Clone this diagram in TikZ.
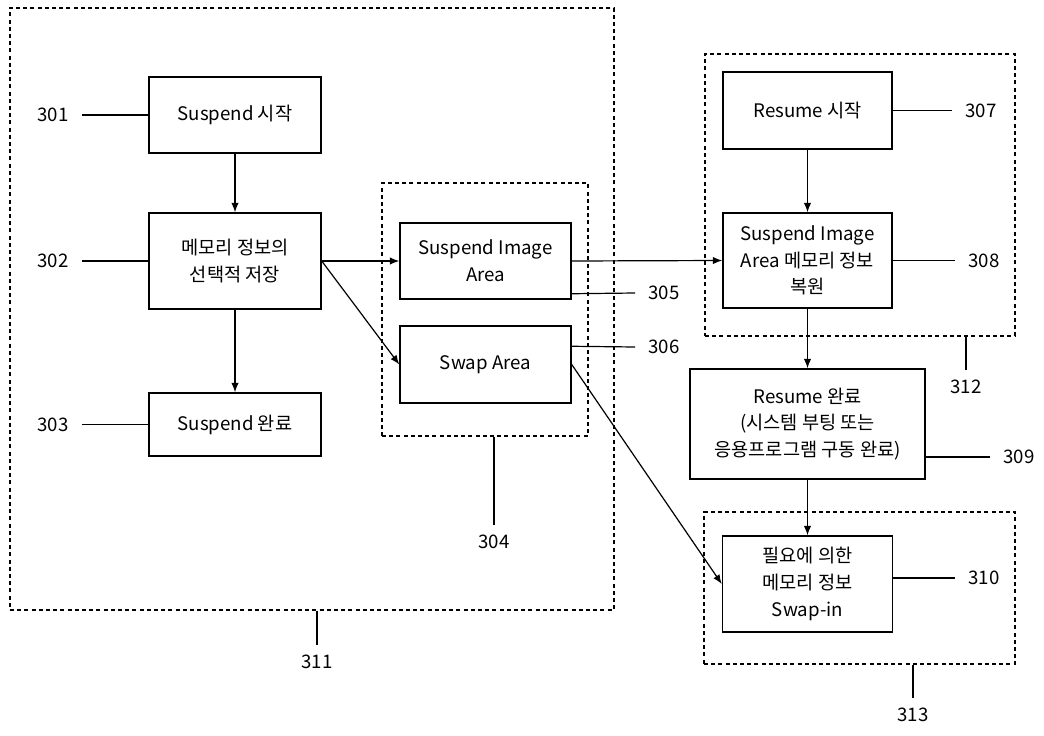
\documentclass[tikz,border=0pt]{standalone}
\usepackage{fontspec}
\setmainfont{Noto Sans CJK KR}
\usepackage{tikz}
\usetikzlibrary{calc}
\usetikzlibrary{arrows.meta}
\usetikzlibrary{shapes,positioning}

\begin{document}
\begin{tikzpicture}[x=0.75pt,y=-0.75pt,
	box/.style={rectangle, draw, line width=1.1pt, align=center, inner sep=0pt, minimum width=129pt, font=\fontsize{14}{20}\selectfont},
	region/.style={rectangle, draw, line width=0.9pt, dash pattern=on 3pt off 2.4pt, inner sep=0pt},
	num/.style={inner xsep=10pt, inner ysep=7pt, font=\fontsize{14}{20}\selectfont},
	link/.style={line width=0.9pt, -{Latex[length=7pt,width=5.5pt]}},
	lead/.style={line width=0.9pt}]
	\useasboundingbox (0,0) rectangle (1044,735);
	\node (g311) at (312,309) [region, minimum width=453pt, minimum height=451.5pt] {};
	\node (g304) at (485,309.5) [region, minimum width=154.5pt, minimum height=189.75pt] {};
	\node (g312) at (860,195) [region, minimum width=232.5pt, minimum height=211.5pt] {};
	\node (g313) at (859.5,588) [region, minimum width=233.25pt, minimum height=114pt] {};
	\node (s301) at (235,115) [box, minimum height=57pt] {Suspend 시작};
	\node (s302) at (235,261) [box, minimum height=72pt] {메모리 정보의\\선택적 저장};
	\node (s303) at (235,424.5) [box, minimum height=47.25pt] {Suspend 완료};
	\node (s305) at (485.5,261) [box, minimum width=128.25pt, minimum height=57pt] {Suspend Image\\Area};
	\node (s306) at (485.5,364.5) [box, minimum width=128.25pt, minimum height=57.75pt] {Swap Area};
	\node (s307) at (807.5,110.5) [box, minimum width=126.75pt, minimum height=57.75pt] {Resume 시작};
	\node (s308) at (807.5,260.5) [box, minimum width=126.75pt, minimum height=71.25pt] {Suspend Image\\Area 메모리 정보\\복원};
	\node (s309) at (807.5,424) [box, minimum width=176.25pt, minimum height=82.5pt] {Resume 완료\\(시스템 부팅 또는\\응용프로그램 구동 완료)};
	\node (s310) at (807.5,584) [box, minimum width=127.5pt, minimum height=72pt] {필요에 의한\\메모리 정보\\Swap-in};
	\node (l301) at (82,115) [num, anchor=east] {301};
	\node (l302) at (82,261) [num, anchor=east] {302};
	\node (l303) at (82,424.5) [num, anchor=east] {303};
	\node (l304) at (494,525) [num, anchor=north] {304};
	\node (l305) at (635,293) [num, anchor=west] {305};
	\node (l306) at (635,347) [num, anchor=west] {306};
	\node (l307) at (952,110.5) [num, anchor=west] {307};
	\node (l308) at (955,260.5) [num, anchor=west] {308};
	\node (l309) at (990,457) [num, anchor=west] {309};
	\node (l310) at (955,578) [num, anchor=west] {310};
	\node (l311) at (317,645) [num, anchor=north] {311};
	\node (l312) at (966,370) [num, anchor=north] {312};
	\node (l313) at (913,698) [num, anchor=north] {313};
	\draw[link] (s301) -- (s302);
	\draw[link] (s302) -- (s303);
	\draw[link] (s302.east) -- (s305.west);
	\draw[link] (s302.east) -- (s306.west);
	\draw[link] (s305.east) -- (s308.west);
	\draw[link] (s306.east) -- (s310.west);
	\draw[link] (s307) -- (s308);
	\draw[link] (s308) -- (s309);
	\draw[link] (s309) -- (s310);
	\draw[lead] (l301.east) -- (s301.west);
	\draw[lead] (l302.east) -- (s302.west);
	\draw[lead] (l303.east) -- (s303.west);
	\draw[lead] ($(s305.south east)+(0,-6)$) -- (l305.west);
	\draw[lead] ($(s306.north east)+(0,21)$) -- (l306.west);
	\draw[lead] (s307.east) -- (l307.west);
	\draw[lead] (s308.east) -- (l308.west);
	\draw[lead] ($(s309.east)+(0,33)$) -- (l309.west);
	\draw[lead] ($(s310.east)+(0,-6)$) -- (l310.west);
	\draw[lead] ($(g304.south)+(9,0)$) -- (l304.north);
	\draw[lead] ($(g311.south)+(5,0)$) -- (l311.north);
	\draw[lead] ($(g312.south)+(106,0)$) -- (l312.north);
	\draw[lead] ($(g313.south)+(53.5,0)$) -- (l313.north);
\end{tikzpicture}
\end{document}
